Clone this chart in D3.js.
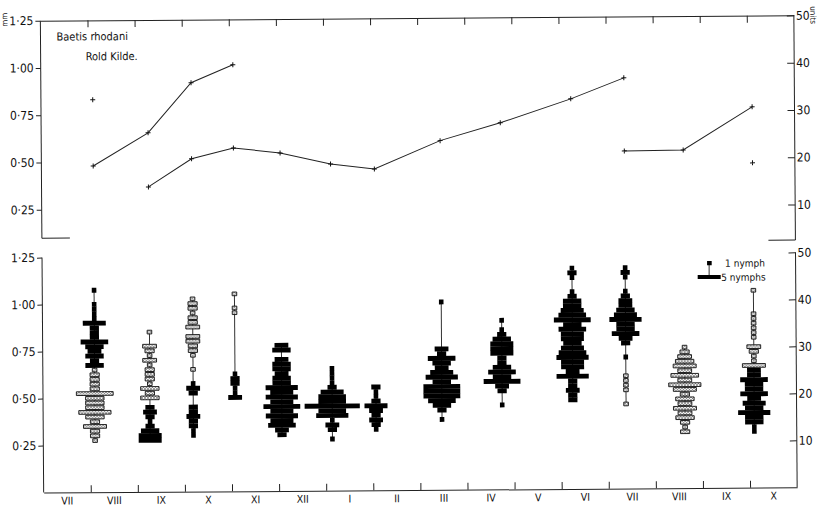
<!DOCTYPE html>
<html><head><meta charset="utf-8">
<script src="https://cdn.jsdelivr.net/npm/d3@7"></script>
<style>
html,body{margin:0;padding:0;background:#fff;}
svg{display:block;}
text{font-family:"Liberation Sans Narrow","DejaVu Sans Condensed","Arial Narrow",sans-serif;fill:#111;}
</style></head><body>
<svg id="chart" width="822" height="506"></svg>
<script>
// Month intervals along the time axis (July of year 1 to October of year 2)
const monthLabels = ["VII","VIII","IX","X","XI","XII","I","II","III","IV","V","VI","VII","VIII","IX","X"];

// Sampling dates, in months from the start of the first July
const sampleMonth = [1.10, 2.27, 3.19, 4.08, 5.07, 6.14, 7.07, 8.47, 9.75, 11.25, 12.38, 13.63, 15.10];

// Size-frequency per sample: [size class in micrometer units, number of nymphs]
// solid cohort
const blackCounts = [
  [[43,1],[40,1],[39,1],[38,1],[37,1],[36,5],[35,2],[34,2],[33,2],[32,6],[31,4],[30,3],[29,4],[28,2],[27,4]],
  [[18,2],[17,3],[16,2],[15,1],[14,2],[13,4],[12,5],[11,5]],
  [[23,1],[22,3],[21,2],[18,2],[17,2],[16,3],[15,2],[14,2],[13,1],[12,1]],
  [[25,1],[24,2],[23,2],[22,1],[21,1],[20,3]],
  [[31,3],[30,4],[28,3],[27,4],[26,4],[25,3],[24,4],[23,4],[22,7],[21,5],[20,7],[19,5],[18,8],[17,5],[16,7],[15,5],[14,6],[13,3],[12,2]],
  [[26,1],[25,1],[24,1],[23,1],[22,2],[21,5],[20,6],[19,6],[18,12],[17,6],[16,7],[15,1],[14,3],[13,2],[11,1]],
  [[22,2],[21,1],[20,1],[19,2],[18,5],[17,3],[16,2],[15,3],[14,2],[13,1]],
  [[40,1],[30,3],[29,2],[28,6],[27,4],[26,3],[25,5],[24,7],[23,4],[22,8],[21,8],[20,8],[19,6],[18,4],[17,2],[15,1]],
  [[36,1],[34,1],[33,2],[32,4],[31,5],[30,5],[29,5],[28,2],[27,2],[26,4],[25,6],[24,4],[23,8],[22,3],[21,2],[18,1]],
  [[47,1],[46,2],[45,1],[42,1],[41,2],[40,4],[39,4],[38,5],[37,6],[36,8],[35,4],[34,6],[33,5],[32,5],[31,4],[30,5],[29,6],[28,7],[27,5],[26,5],[25,3],[24,7],[23,2],[22,2],[21,3],[20,2],[19,2]],
  [[47,1],[46,2],[45,1],[42,1],[41,2],[40,3],[39,3],[38,4],[37,5],[36,7],[35,4],[34,4],[33,6],[32,3],[31,2],[28,1]],
  [],
  [[25,3],[24,3],[23,6],[22,4],[21,4],[20,6],[19,3],[18,5],[17,4],[16,7],[15,4],[14,4],[13,1],[12,1]]
];
// stippled cohort
const stippledCounts = [
  [[26,1],[25,2],[24,2],[23,2],[22,2],[21,8],[20,4],[19,4],[18,4],[17,7],[16,4],[15,2],[14,5],[13,2],[12,2],[11,1]],
  [[34,1],[31,3],[30,2],[29,1],[28,3],[27,1],[26,2],[25,2],[24,2],[23,1],[22,4],[21,2],[20,4]],
  [[41,1],[40,2],[39,2],[38,1],[37,2],[36,2],[35,3],[33,3],[32,3],[31,2],[30,2],[29,1],[26,1]],
  [[42,1],[39,1],[38,1]],
  [], [], [], [], [], [],
  [[24,1],[23,1],[22,1],[21,1],[18,1]],
  [[30,1],[29,2],[28,3],[27,4],[26,5],[25,3],[24,6],[23,3],[22,7],[21,5],[20,2],[19,4],[18,3],[17,5],[16,3],[15,4],[14,2],[13,1],[12,2]],
  [[42,1],[37,1],[36,1],[35,1],[34,1],[33,1],[32,1],[30,3],[29,2],[28,1],[27,1],[26,5]]
];

// Mean body length (mm) of each cohort: [sample index, mm]
const cohortOld = [[0,0.480],[1,0.653],[2,0.916],[3,1.010]];
const cohortMain = [[1,0.367],[2,0.514],[3,0.570],[4,0.542],[5,0.482],[6,0.454],[7,0.601],[8,0.693],[9,0.817],[10,0.926]];
const cohortNew = [[10,0.540],[11,0.543],[12,0.768]];
const singleMeans = [[0,0.830],[12,0.472]];

const mmTicks = [0.25, 0.50, 0.75, 1.00, 1.25];
const unitTicks = [10, 20, 30, 40, 50];

const svg = d3.select("#chart");
const defs = svg.append("defs");
const pat = defs.append("pattern").attr("id","stipple").attr("width",3).attr("height",3)
  .attr("patternUnits","userSpaceOnUse");
pat.append("rect").attr("width",3).attr("height",3).attr("fill","#fff");
pat.append("path").attr("d","M0,3L3,0M0,0L3,3").attr("stroke","#444").attr("stroke-width",0.55);

const g = svg.append("g").attr("transform","rotate(-0.4 418 253)");

const x = d3.scaleLinear().domain([0,16]).range([42, 795.5]);
const yTop = d3.scaleLinear().domain([0,1.25]).range([254.5, 18]);
const yBot = d3.scaleLinear().domain([0,1.25]).range([490, 255]);
const uTop = d3.scaleLinear().domain([0,50]).range([254.5, 18]);
const uBot = d3.scaleLinear().domain([0,50]).range([490, 255]);
const fmt = d => d3.format(".2f")(d).replace(".", "·");
const W = 4.6; // px per nymph
const rowH = uBot(0) - uBot(1);

function styleAxis(sel){
  sel.select(".domain").remove();
  sel.selectAll("line").attr("stroke","#222").attr("stroke-width",1);
  sel.selectAll("text").attr("font-size",12).attr("fill","#111")
    .style("font-family",'"Liberation Sans Narrow","DejaVu Sans Condensed",sans-serif');
}
const line = (x1,y1,x2,y2,w=1) => g.append("line").attr("x1",x1).attr("y1",y1).attr("x2",x2).attr("y2",y2)
  .attr("stroke","#222").attr("stroke-width",w);

// ---- upper panel: cohort mean lengths ----
g.append("g").attr("transform",`translate(0,${yTop(1.25)})`)
  .call(d3.axisBottom(x).tickValues(d3.range(1,16)).tickFormat("").tickSize(7).tickSizeOuter(0))
  .call(s => s.select(".domain").attr("stroke","#222"))
  .selectAll("line").attr("stroke","#222");
g.append("g").attr("transform",`translate(${x(0)},0)`)
  .call(d3.axisLeft(yTop).tickValues(mmTicks).tickFormat(fmt).tickSize(5).tickPadding(2))
  .call(styleAxis);
line(x(0), yTop(1.25), x(0), yTop(0.1));
line(x(0), yTop(0.1), x(0)+28, yTop(0.1));
g.append("g").attr("transform",`translate(${x(16)},0)`)
  .call(d3.axisRight(uTop).tickValues(unitTicks).tickFormat(d3.format("d")).tickSizeInner(-7).tickSizeOuter(0).tickPadding(2))
  .call(styleAxis);
line(x(16), uTop(50), x(16), uTop(2.5));
line(x(16)-27, uTop(2.5), x(16), uTop(2.5));

g.append("text").attr("transform",`translate(9,${yTop(1.25)+6}) rotate(-90)`).attr("font-size",8).text("mm");
g.append("text").attr("transform",`translate(812,9) rotate(90)`).attr("font-size",8).text("units");
g.append("text").attr("x",58).attr("y",38).attr("font-size",11).text("Baetis rhodani");
g.append("text").attr("x",87).attr("y",58).attr("font-size",11).text("Rold Kilde.");

const lineGen = d3.line().x(d => x(sampleMonth[d[0]])).y(d => yTop(d[1]));
[cohortOld, cohortMain, cohortNew].forEach(s => {
  g.append("path").datum(s).attr("d", lineGen).attr("fill","none").attr("stroke","#222").attr("stroke-width",1);
});
const allMeans = cohortOld.concat(cohortMain, cohortNew, singleMeans);
g.append("g").selectAll("path").data(allMeans).join("path")
  .attr("transform", d => `translate(${x(sampleMonth[d[0]])},${yTop(d[1])})`)
  .attr("d","M-2.5,0H2.5M0,-2.5V2.5").attr("stroke","#111").attr("stroke-width",1);

// ---- lower panel: size-frequency kites ----
g.append("g").attr("transform",`translate(0,${yBot(0)})`)
  .call(d3.axisTop(x).tickValues(d3.range(1,16)).tickFormat("").tickSize(7).tickSizeOuter(0))
  .call(s => s.select(".domain").attr("stroke","#222"))
  .selectAll("line").attr("stroke","#222");
g.append("g").attr("transform",`translate(${x(0)},0)`)
  .call(d3.axisLeft(yBot).tickValues(mmTicks).tickFormat(fmt).tickSize(5).tickPadding(2))
  .call(styleAxis);
line(x(0), yBot(1.25), x(0), yBot(0));
g.append("g").attr("transform",`translate(${x(16)},0)`)
  .call(d3.axisRight(uBot).tickValues(unitTicks).tickFormat(d3.format("d")).tickSizeInner(-7).tickSizeOuter(0).tickPadding(2))
  .call(styleAxis);
line(x(16), uBot(50), x(16), uBot(0));

g.append("g").selectAll("text").data(monthLabels).join("text")
  .attr("x",(d,i) => x(i+0.5)).attr("y",502).attr("text-anchor","middle").attr("font-size",10.5).text(d => d);

sampleMonth.forEach((m,i) => {
  const cx = x(m);
  const classes = blackCounts[i].concat(stippledCounts[i]).map(d => d[0]);
  const kg = g.append("g");
  kg.append("line").attr("x1",cx).attr("x2",cx)
    .attr("y1",uBot(d3.max(classes))).attr("y2",uBot(d3.min(classes)))
    .attr("stroke","#333").attr("stroke-width",1);
  kg.selectAll("rect.s").data(stippledCounts[i]).join("rect").attr("class","s")
    .attr("x", d => cx - d[1]*W/2).attr("width", d => d[1]*W)
    .attr("y", d => uBot(d[0]) - rowH/2 + 0.5).attr("height", rowH - 1)
    .attr("fill","url(#stipple)").attr("stroke","#111").attr("stroke-width",0.9);
  kg.selectAll("rect.b").data(blackCounts[i]).join("rect").attr("class","b")
    .attr("x", d => cx - d[1]*W/2).attr("width", d => d[1]*W)
    .attr("y", d => uBot(d[0]) - rowH/2).attr("height", rowH + 0.2)
    .attr("fill","#000");
});

// legend
const lg = g.append("g");
lg.append("line").attr("x1",709).attr("x2",709).attr("y1",265).attr("y2",279).attr("stroke","#333");
lg.append("rect").attr("x",707).attr("y",263).attr("width",W).attr("height",4.2).attr("fill","#000");
lg.append("rect").attr("x",709-2.5*W).attr("y",277).attr("width",5*W).attr("height",4).attr("fill","#000");
lg.append("text").attr("x",725).attr("y",269).attr("font-size",10).text("1 nymph");
lg.append("text").attr("x",721).attr("y",283).attr("font-size",10).text("5 nymphs");
</script>
</body></html>
